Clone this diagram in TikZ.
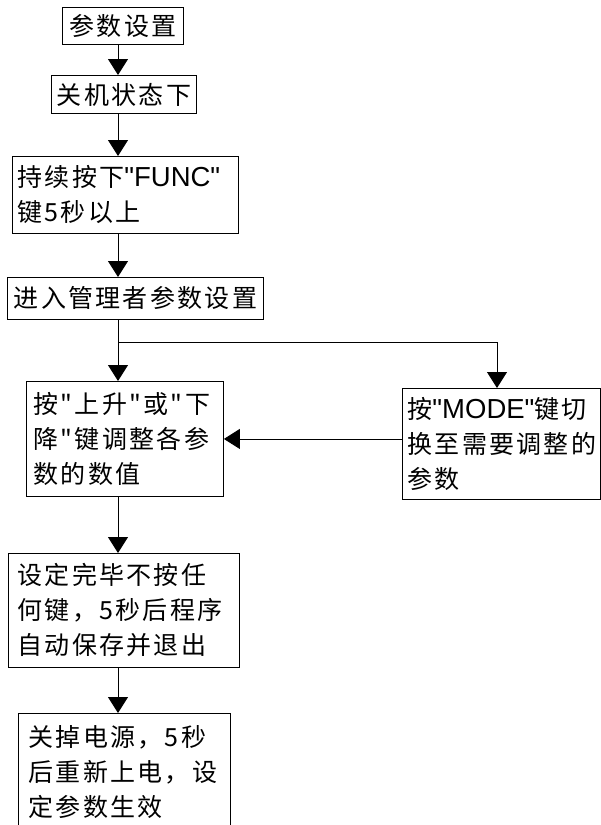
\documentclass[tikz,border=0pt]{standalone}
\usepackage{fontspec}
\newfontfamily\cjk[LetterSpace=9.2]{Noto Sans CJK SC}
\newfontfamily\lat{Liberation Sans}
\usetikzlibrary{arrows.meta}
\hfuzz=20pt
\newcommand\en[1]{{\fontsize{27.5}{35}\lat #1}}
\begin{document}
\begin{tikzpicture}[x=1pt,y=-1pt,
	box/.style={draw, line width=0.9pt, anchor=north west, inner ysep=0pt, font=\fontsize{25}{35}\cjk},
	arr/.style={line width=0.9pt, -{Triangle[length=16pt,width=20pt]}},
	]
	\useasboundingbox (0,0) rectangle (601,825);
	\clip (0,0) rectangle (601,825);
	\coordinate (ax) at (118,0); \coordinate (bx) at (497,0);
	\coordinate (br) at (118,342);

	\node[box, minimum width=121, minimum height=37, inner xsep=0pt] (s1) at (62,7) {参数设置};
	\node[box, minimum width=145, minimum height=38, inner xsep=0pt] (s2) at (51,75) {关机状态下};
	\node[box, text width=216, inner xsep=5, align=left, minimum height=77] (s3) at (12,156) {持续按下\en{"FUNC"}\\键5秒以上};
	\node[box, minimum width=256, minimum height=42, inner xsep=0pt] (s4) at (7,277) {进入管理者参数设置};
	%
	\node[box, text width=183, inner xsep=7, align=left, minimum height=115] (adj) at (26,381) {按"上升"或"下\\降"键调整各参\\数的数值};
	\node[box, text width=188, inner xsep=5, align=left, minimum height=111] (mode) at (402,388) {按\en{"MODE"}键切\\换至需要调整的\\参数};
	%
	\node[box, text width=213, inner xsep=9, align=left, minimum height=114] (save) at (8,553) {设定完毕不按任\\何键，5秒后程序\\自动保存并退出};
	\node[box, text width=192, inner xsep=10, align=left, minimum height=118] (pwr) at (18,713) {关掉电源，5秒\\后重新上电，设\\定参数生效};

	\draw[arr] (s1.south -| ax) -- (s2.north -| ax);
	\draw[arr] (s2.south -| ax) -- (s3.north -| ax);
	\draw[arr] (s3.south -| ax) -- (s4.north -| ax);
	\draw[arr] (s4.south -| ax) -- (adj.north -| ax);
	\draw[arr] (br) -| (mode.north -| bx);
	\draw[arr] (mode.west |- adj.east) -- (adj.east);
	\draw[arr] (adj.south -| ax) -- (save.north -| ax);
	\draw[arr] (save.south -| ax) -- (pwr.north -| ax);
\end{tikzpicture}
\end{document}
